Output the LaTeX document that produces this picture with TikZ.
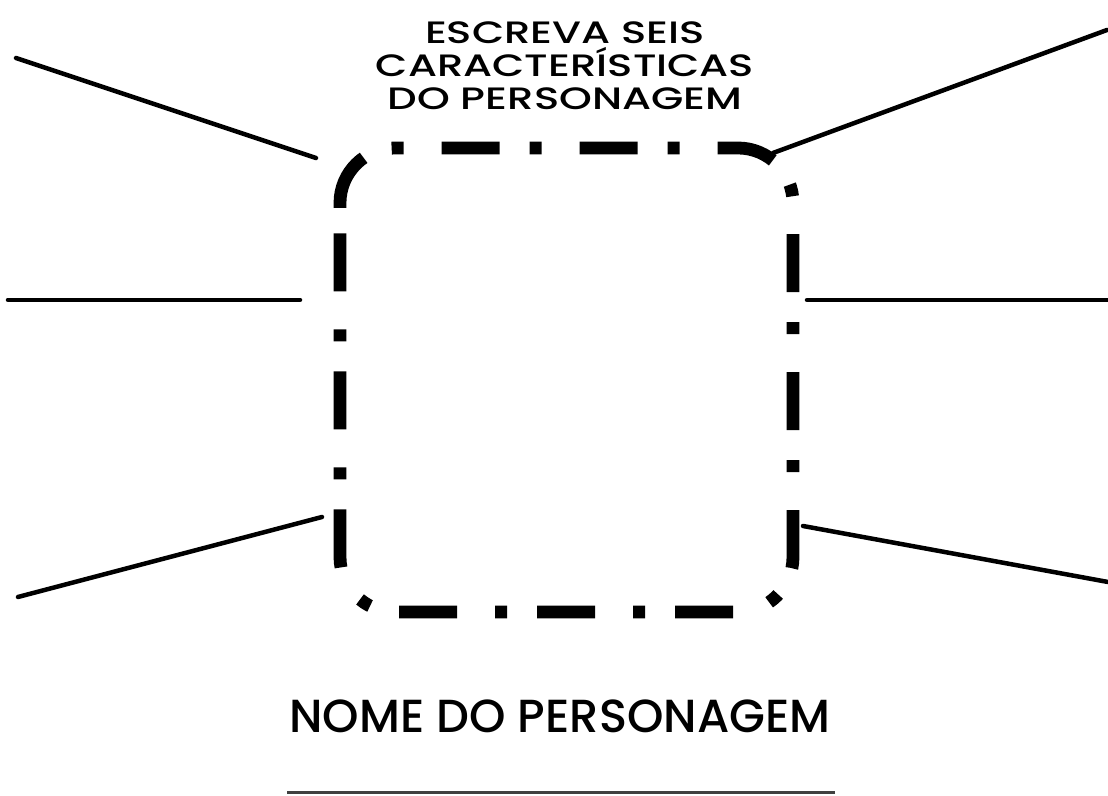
\documentclass[tikz,border=0pt]{standalone}
\usepackage{fontspec}
\setmainfont{Poppins}[UprightFont=* Medium]
\usetikzlibrary{calc, positioning}
\tikzstyle{spoke} = [line width=3.2pt, black, line cap=round]
\tikzstyle{frame} = [line width=0.32cm, black,
	dash pattern=on 1.45cm off 0.75cm on 0.3cm off 0.95cm]
\tikzstyle{heading} = [align=center, inner sep=0pt, transform shape, xscale=1.35,
	font=\fontsize{22}{23.8}\selectfont]
\tikzstyle{namelabel} = [inner sep=0pt, font=\fontsize{33}{36}\selectfont]
\tikzstyle{writeline} = [line width=0.075cm, black!75]

\begin{document}
\begin{tikzpicture}
	% fix the page size
	\useasboundingbox (0,0) rectangle (27.7,19.9);

	% set up texts
	\node (task) [heading, anchor=base] at (14.125,17.15) {ESCREVA SEIS\\CARACTERÍSTICAS\\DO PERSONAGEM};
	\node (name) [namelabel, anchor=base] at (14,1.575) {NOME DO PERSONAGEM};

	% set up box for the drawing (starts at the upper left dash)
	\draw [frame] (8.5,14.7) -- (8.5,14.825) arc[start angle=180, end angle=90, radius=1.375]
		-- (18.45,16.2) arc[start angle=90, end angle=0, radius=1.375]
		-- (19.825,5.975) arc[start angle=0, end angle=-90, radius=1.375]
		-- (9.875,4.6) arc[start angle=270, end angle=180, radius=1.375] -- cycle;

	% set up ends of the spokes
	\coordinate (ul-out) at (0.4,18.45);
	\coordinate (ul-in) at (7.9,15.95);
	\coordinate (ur-in) at (19.325,16.075);
	\coordinate (ur-out) at (27.675,19.15);
	\coordinate (ml-out) at (0.2,12.4);
	\coordinate (ml-in) at (7.5,12.4);
	\coordinate (mr-in) at (20.175,12.4);
	\coordinate (mr-out) at (27.7,12.4);
	\coordinate (ll-out) at (0.45,4.975);
	\coordinate (ll-in) at (8.05,6.975);
	\coordinate (lr-in) at (20.075,6.75);
	\coordinate (lr-out) at (27.7,5.35);
	\coordinate (line-a) at (7.175,0.075);
	\coordinate (line-b) at (20.875,0.075);

	% set up spokes
	\draw [spoke] (ul-out) -- (ul-in);
	\draw [spoke] (ur-in) -- (ur-out);
	\draw [spoke] (ml-out) -- (ml-in);
	\draw [spoke] (mr-in) -- (mr-out);
	\draw [spoke] (ll-out) -- (ll-in);
	\draw [spoke] (lr-in) -- (lr-out);

	% line for the name
	\draw [writeline] (line-a) -- (line-b);
\end{tikzpicture}
\end{document}
